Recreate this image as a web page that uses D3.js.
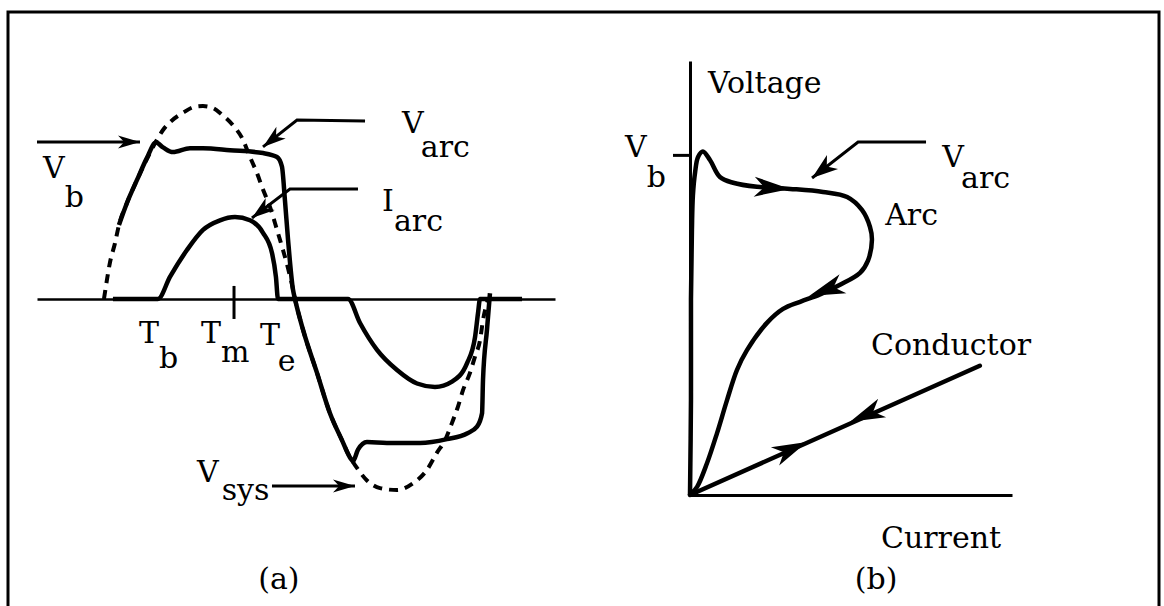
<!DOCTYPE html>
<html>
<head>
<meta charset="utf-8">
<script src="https://cdn.jsdelivr.net/npm/d3@7"></script>
<style>
  html, body { margin: 0; padding: 0; background: #fff; }
  svg { display: block; }
  text { font-family: "DejaVu Serif", serif; font-size: 30px; fill: #000; }
</style>
</head>
<body>
<svg id="chart" width="1164" height="606"></svg>
<script>
// ---- (a) waveforms over one cycle: phase in degrees, amplitude in per-unit ----
const vSysPhase = [0, 2.8, 5.6, 10.3, 14.0, 21.5, 30.9, 40.2, 48.6, 55.2, 63.6, 73.9, 84.2, 92.6, 101.9,
  110.3, 120.6, 129.9, 136.5, 143.1, 148.7, 155.2, 161.8, 167.4, 172.1, 175.8, 178.6, 186.1, 199.2,
  211.3, 222.5, 230.0, 234.7, 245.9, 258.1, 274.0, 288.9, 302.0, 311.4, 318.9, 325.4, 331.0, 335.7,
  342.2, 346.9, 351.6, 354.4, 358.9];
const vSysValue = [0, 0.10, 0.19, 0.29, 0.385, 0.50, 0.62, 0.73, 0.82, 0.88, 0.93, 0.97, 1.0, 1.005, 0.995,
  0.96, 0.905, 0.83, 0.74, 0.655, 0.57, 0.48, 0.36, 0.255, 0.16, 0.075, 0, -0.16, -0.385,
  -0.595, -0.735, -0.825, -0.865, -0.945, -0.985, -0.995, -0.96, -0.89, -0.80, -0.735, -0.645, -0.56, -0.475,
  -0.385, -0.30, -0.215, -0.11, -0.005];

const vArcPhase = [14.0, 21.5, 30.9, 40.2, 48.6, 55.2, 64.5, 80.4, 92.6, 117.8, 148.7, 161.8, 166.4, 169.2,
  172.1, 176.7, 178.6, 186.1, 199.2, 211.3, 222.5, 230.0, 232.8, 237.5, 245.9, 264.6, 295.5, 320.7,
  339.4, 348.8, 353.5, 354.4, 358.1, 360.9];
const vArcValue = [0.385, 0.50, 0.62, 0.735, 0.815, 0.79, 0.765, 0.785, 0.785, 0.775, 0.76, 0.74, 0.69, 0.515,
  0.31, 0.05, 0, -0.16, -0.385, -0.595, -0.735, -0.825, -0.845, -0.785, -0.745, -0.75, -0.75, -0.73,
  -0.70, -0.665, -0.595, -0.42, -0.16, 0.03];

const iArcPhase = [8.4, 50.5, 61.7, 77.6, 92.6, 108.5, 122.5, 136.5, 148.7, 157.1, 160.8, 162.7, 228.2,
  239.4, 255.3, 274.0, 292.7, 309.5, 325.4, 339.4, 346.9, 349.7, 351.6, 390.9];
const iArcValue = [0, 0, 0.115, 0.255, 0.36, 0.41, 0.427, 0.41, 0.345, 0.24, 0.115, 0, 0,
  -0.125, -0.265, -0.37, -0.44, -0.458, -0.43, -0.335, -0.20, -0.075, 0, 0];

// ---- (b) V-I characteristic: current and voltage in per-unit (V = 1 at breakdown) ----
const arcCurrent = [0, 0.003, 0.003, 0.006, 0.009, 0.016, 0.025, 0.040, 0.062, 0.093, 0.134, 0.208, 0.311,
  0.413, 0.488, 0.534, 0.559, 0.565, 0.553, 0.528, 0.466, 0.404, 0.342, 0.289, 0.239, 0.177, 0.146,
  0.115, 0.084, 0.053, 0.022, 0];
const arcVoltage = [0, 0.28, 0.575, 0.78, 0.88, 0.95, 0.994, 1.01, 0.985, 0.935, 0.918, 0.906, 0.90,
  0.891, 0.876, 0.838, 0.788, 0.75, 0.69, 0.653, 0.618, 0.59, 0.568, 0.547, 0.506, 0.426, 0.368,
  0.279, 0.182, 0.094, 0.024, 0];
const conductorCurrent = [0, 0.90];
const conductorVoltage = [0, 0.38];

const svg = d3.select("#chart");

// outer frame
svg.append("rect")
  .attr("x", 8).attr("y", 12).attr("width", 1151).attr("height", 640)
  .attr("fill", "none").attr("stroke", "#000").attr("stroke-width", 3);

// barbed filled arrowhead pointing from `from` to `tip` (pixel coords)
function arrowHead(g, tip, from, len, hw) {
  const a = Math.atan2(tip[1] - from[1], tip[0] - from[0]);
  const c = Math.cos(a), s = Math.sin(a);
  const local = [[0, 0], [-len, -hw], [-len * 0.72, 0], [-len, hw]];
  const pts = local.map(([x, y]) => [tip[0] + x * c - y * s, tip[1] + x * s + y * c]);
  g.append("path").attr("d", d3.line()(pts) + "Z").attr("fill", "#000").attr("stroke", "none");
}

// label with a lowered suffix ("V" + "arc")
function subLabel(g, x, y, main, sub, subDy, subDx) {
  const t = g.append("text").attr("x", x).attr("y", y);
  t.append("tspan").text(main);
  if (sub) t.append("tspan").attr("dy", subDy).attr("dx", subDx || 0).text(sub);
}

// leader: polyline through data points ending in an arrowhead
function leader(g, pts, len, hw) {
  g.append("path").attr("d", d3.line()(pts))
    .attr("fill", "none").attr("stroke", "#000").attr("stroke-width", 3)
    .attr("stroke-linejoin", "miter");
  arrowHead(g, pts[pts.length - 1], pts[pts.length - 2], len, hw);
}

// ================= (a) time waveforms =================
const xA = d3.scaleLinear().domain([-62.6, 421.7]).range([37, 555]);
const yA = d3.scaleLinear().domain([-1, 1]).range([491, 107]);
const gA = svg.append("g");

// time axis
const axA = gA.append("g")
  .attr("transform", `translate(0,${yA(0)})`)
  .call(d3.axisBottom(xA).tickValues([]).tickSizeOuter(0));
axA.select(".domain").attr("stroke-width", 2.5);

// T_m tick across the axis
gA.append("line")
  .attr("x1", xA(121.6)).attr("x2", xA(121.6))
  .attr("y1", yA(0.068)).attr("y2", yA(-0.104))
  .attr("stroke", "#000").attr("stroke-width", 3);

const lineA = (ph, val) => d3.line()
  .x(i => xA(ph[i])).y(i => yA(val[i]))
  .curve(d3.curveMonotoneX)(d3.range(ph.length));

// system voltage (dashed)
gA.append("path").attr("d", lineA(vSysPhase, vSysValue))
  .attr("fill", "none").attr("stroke", "#000").attr("stroke-width", 4)
  .attr("stroke-dasharray", "9,7");

// arc current
gA.append("path").attr("d", lineA(iArcPhase, iArcValue))
  .attr("fill", "none").attr("stroke", "#000").attr("stroke-width", 4.5)
  .attr("stroke-linejoin", "round");

// arc voltage
gA.append("path").attr("d", lineA(vArcPhase, vArcValue))
  .attr("fill", "none").attr("stroke", "#000").attr("stroke-width", 4.5)
  .attr("stroke-linejoin", "round");

// leaders (a)
const P = (ph, v) => [xA(ph), yA(v)];
leader(gA, [P(-62.6, 0.818), P(33.7, 0.818)], 22, 6.5);
leader(gA, [P(244.1, 0.927), P(180.5, 0.932), P(148.7, 0.792)], 23, 7.5);
leader(gA, [P(237.5, 0.573), P(173.9, 0.573), P(138.4, 0.422)], 23, 7.5);
leader(gA, [P(157.1, -0.974), P(234.7, -0.974)], 22, 6.5);

// labels (a)
const labelsA = [
  { t: "V", s: "b", ph: -57.0, v: 0.630, dy: 29 },
  { t: "V", s: "arc", ph: 278.6, v: 0.865, dy: 24 },
  { t: "I", s: "arc", ph: 260.0, v: 0.458, dy: 20 },
  { t: "T", s: "b", ph: 32.7, v: -0.229, dy: 25 },
  { t: "T", s: "m", ph: 90.7, v: -0.229, dy: 19 },
  { t: "T", s: "e", ph: 145.9, v: -0.24, dy: 26 },
  { t: "V", s: "sys", ph: 87.0, v: -0.953, dy: 18, dx: 3 }
];
labelsA.forEach(d => subLabel(gA, xA(d.ph), yA(d.v), d.t, d.s, d.dy, d.dx));
gA.append("text").attr("x", xA(163.6)).attr("y", yA(-1.51))
  .attr("text-anchor", "middle").text("(a)");

// ================= (b) voltage-current characteristic =================
const xB = d3.scaleLinear().domain([0, 1]).range([690, 1012]);
const yB = d3.scaleLinear().domain([0, 1.276]).range([495, 61]);
const gB = svg.append("g");

const axBx = gB.append("g")
  .attr("transform", `translate(0,${yB(0)})`)
  .call(d3.axisBottom(xB).tickValues([]).tickSizeOuter(0));
axBx.select(".domain").attr("stroke-width", 3);

const axBy = gB.append("g")
  .attr("transform", `translate(${xB(0)},0)`)
  .call(d3.axisLeft(yB).tickValues([1]).tickSize(17).tickFormat("").tickSizeOuter(0));
axBy.select(".domain").attr("stroke-width", 3);
axBy.selectAll(".tick line").attr("stroke-width", 3);

// arc trajectory
gB.append("path")
  .attr("d", d3.line().x(i => xB(arcCurrent[i])).y(i => yB(arcVoltage[i]))
    .curve(d3.curveCatmullRom.alpha(0.5))(d3.range(arcCurrent.length)))
  .attr("fill", "none").attr("stroke", "#000").attr("stroke-width", 4.5)
  .attr("stroke-linejoin", "round");

// conductor (ohmic) line
gB.append("path")
  .attr("d", d3.line().x(i => xB(conductorCurrent[i])).y(i => yB(conductorVoltage[i]))(d3.range(conductorCurrent.length)))
  .attr("fill", "none").attr("stroke", "#000").attr("stroke-width", 4.5)
  .attr("stroke-linecap", "round");

// direction arrows on the trajectories
const Q = (c, v) => [xB(c), yB(v)];
arrowHead(gB, Q(0.311, 0.90), Q(0.208, 0.906), 36, 10);
arrowHead(gB, Q(0.370, 0.585), Q(0.466, 0.618), 36, 10);
arrowHead(gB, Q(0.497, 0.215), Q(0.90, 0.38), 35, 10);
arrowHead(gB, Q(0.363, 0.156), Q(0, 0), 35, 10);

// leader to the arc voltage
leader(gB, [Q(0.733, 1.038), Q(0.522, 1.038), Q(0.379, 0.932)], 26, 9);

// labels (b)
const labelsB = [
  { t: "Voltage", c: 0.056, v: 1.182 },
  { t: "V", s: "b", c: -0.202, v: 0.994, dy: 30 },
  { t: "V", s: "arc", c: 0.783, v: 0.965, dy: 21 },
  { t: "Arc", c: 0.606, v: 0.794 },
  { t: "Conductor", c: 0.562, v: 0.412 },
  { t: "Current", c: 0.593, v: -0.156 }
];
labelsB.forEach(d => subLabel(gB, xB(d.c), yB(d.v), d.t, d.s, d.dy));
gB.append("text").attr("x", xB(0.578)).attr("y", yB(-0.276))
  .attr("text-anchor", "middle").text("(b)");
</script>
</body>
</html>
